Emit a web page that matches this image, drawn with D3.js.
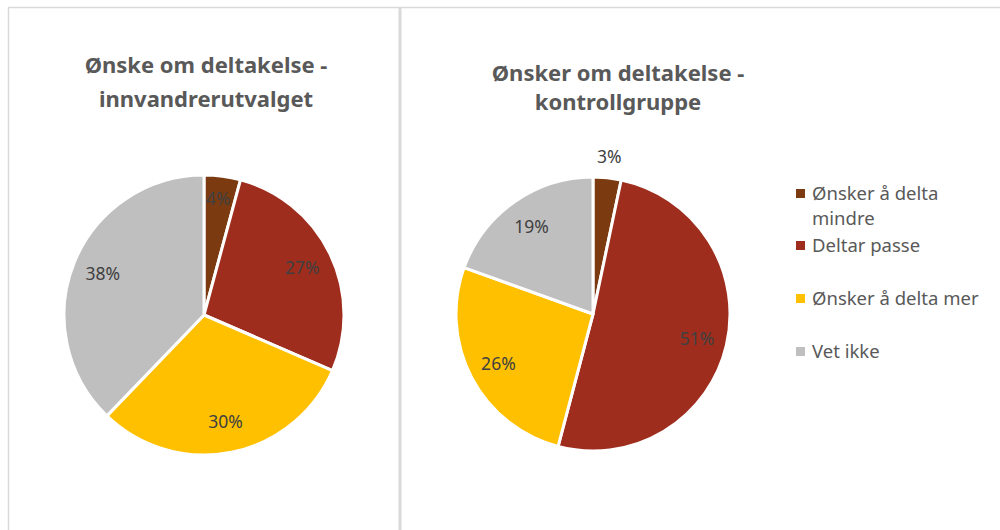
<!DOCTYPE html>
<html>
<head>
<meta charset="utf-8">
<script src="https://cdn.jsdelivr.net/npm/d3@7/dist/d3.min.js"></script>
<style>
  body { margin: 0; background: #fff; }
  svg { display: block; font-family: "Source Sans Pro", "Noto Sans", "Open Sans", sans-serif; }
</style>
</head>
<body>
<svg id="chart" width="1000" height="530"></svg>
<script>
// categories shared by both pies
var categories = ["Ønsker å delta mindre", "Deltar passe", "Ønsker å delta mer", "Vet ikke"];
var colors = ["#7B3A10", "#9E2D1D", "#FFC000", "#BFBFBF"];

// values (percent)
var immigrantValues = [4.2, 27.3, 30.7, 37.8];
var immigrantLabels = ["4%", "27%", "30%", "38%"];
var controlValues = [3.3, 50.8, 26.4, 19.5];
var controlLabels = ["3%", "51%", "26%", "19%"];

var immigrantTitle = ["Ønske om deltakelse -", "innvandrerutvalget"];
var controlTitle = ["Ønsker om deltakelse -", "kontrollgruppe"];

var svg = d3.select("#chart");
var textColor = "#595959";

// panel borders
svg.append("line").attr("x1", 8.5).attr("x2", 8.5).attr("y1", 7.5).attr("y2", 530)
  .attr("stroke", "#D9D9D9").attr("stroke-width", 1.5);
svg.append("line").attr("x1", 8).attr("x2", 1000).attr("y1", 7.5).attr("y2", 7.5)
  .attr("stroke", "#D9D9D9").attr("stroke-width", 1.5);
svg.append("line").attr("x1", 400).attr("x2", 400).attr("y1", 7).attr("y2", 530)
  .attr("stroke", "#D9D9D9").attr("stroke-width", 3);

var pie = d3.pie().sort(null).value(function (d) { return d; });

function drawPie(values, labels, title, cx, cy, r, titleX, titleY, lineGap, outsideSmall) {
  var g = svg.append("g").attr("transform", "translate(" + cx + "," + cy + ")");
  var arc = d3.arc().innerRadius(0).outerRadius(r);
  var labelArc = d3.arc().innerRadius(r * 0.78).outerRadius(r * 0.78);
  var outerArc = d3.arc().innerRadius(r * 1.15).outerRadius(r * 1.15);
  var arcs = pie(values);

  g.selectAll("path.slice").data(arcs).enter().append("path")
    .attr("class", "slice")
    .attr("d", arc)
    .attr("fill", function (d, i) { return colors[i]; })
    .attr("stroke", "#fff")
    .attr("stroke-width", 3)
    .attr("stroke-linejoin", "round");

  g.selectAll("text.lbl").data(arcs).enter().append("text")
    .attr("class", "lbl")
    .attr("transform", function (d) {
      var small = outsideSmall && (d.endAngle - d.startAngle) < 0.25;
      var c = small ? outerArc.centroid(d) : labelArc.centroid(d);
      if ((d.endAngle - d.startAngle) < 0.3 && !small) c[1] -= 8;
      return "translate(" + c[0] + "," + c[1] + ")";
    })
    .attr("text-anchor", "middle")
    .attr("dy", "0.35em")
    .attr("fill", "#404040")
    .attr("font-size", 17.5)
    .text(function (d, i) { return labels[i]; });

  svg.append("text")
    .attr("x", titleX).attr("y", titleY)
    .attr("text-anchor", "middle")
    .attr("fill", textColor)
    .attr("font-size", 22)
    .attr("font-weight", "bold")
    .selectAll("tspan").data(title).enter().append("tspan")
    .attr("x", titleX)
    .attr("dy", function (d, i) { return i === 0 ? 0 : lineGap; })
    .text(function (d) { return d; });
}

drawPie(immigrantValues, immigrantLabels, immigrantTitle, 204, 315, 140, 206, 73, 34, false);
drawPie(controlValues, controlLabels, controlTitle, 593, 314, 137, 618, 81, 29, true);

// legend
var legendRows = [
  { lines: ["Ønsker å delta", "mindre"], y: 194 },
  { lines: ["Deltar passe"], y: 246 },
  { lines: ["Ønsker å delta mer"], y: 299 },
  { lines: ["Vet ikke"], y: 352 }
];
var legend = svg.append("g").attr("font-size", 18.5).attr("fill", textColor);
legendRows.forEach(function (row, i) {
  legend.append("rect")
    .attr("x", 796).attr("y", row.y - 5)
    .attr("width", 9).attr("height", 9)
    .attr("fill", colors[i]);
  var t = legend.append("text").attr("x", 812).attr("y", row.y);
  row.lines.forEach(function (line, k) {
    t.append("tspan").attr("x", 812).attr("dy", k === 0 ? "0.35em" : 25).text(line);
  });
});
</script>
</body>
</html>
